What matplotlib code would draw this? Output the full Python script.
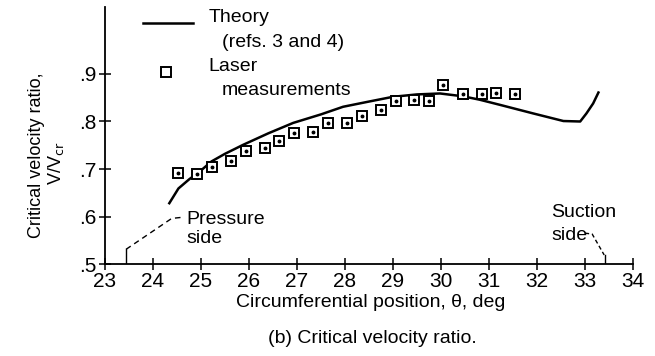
import matplotlib.pyplot as plt
from matplotlib.ticker import FixedLocator, FuncFormatter

# --- data ---
theta_theory = [24.34, 24.53, 24.75, 25.0, 25.22, 25.5, 25.88, 26.4, 26.92,
                27.5, 27.96, 28.5, 29.0, 29.5, 29.98, 30.46, 30.8, 31.23,
                31.92, 32.55, 32.9, 33.03, 33.17, 33.28]
ratio_theory = [0.628, 0.659, 0.678, 0.697, 0.716, 0.732, 0.751, 0.775, 0.797,
                0.815, 0.831, 0.842, 0.852, 0.857, 0.859, 0.853, 0.846, 0.835,
                0.817, 0.801, 0.800, 0.817, 0.838, 0.861]

theta_laser = [24.53, 24.92, 25.22, 25.62, 25.94, 26.33, 26.63, 26.94, 27.33,
               27.64, 28.05, 28.35, 28.75, 29.06, 29.44, 29.75, 30.05, 30.45,
               30.85, 31.14, 31.54]
ratio_laser = [0.691, 0.689, 0.704, 0.717, 0.738, 0.744, 0.758, 0.776, 0.778,
               0.797, 0.797, 0.812, 0.824, 0.844, 0.845, 0.843, 0.877, 0.858,
               0.858, 0.859, 0.857]

x_ticks = list(range(23, 35))
y_ticks = [0.5, 0.6, 0.7, 0.8, 0.9]

plt.rcParams['font.family'] = ['Liberation Sans', 'DejaVu Sans']

fig = plt.figure(figsize=(6.55, 3.56), dpi=100)
ax = fig.add_axes([0.1603, 0.2584, 0.8061, 0.7219])
ax.set_xlim(23, 34)
ax.set_ylim(0.5, 1.041)

for s in ('top', 'right'):
    ax.spines[s].set_visible(False)
for s in ('left', 'bottom'):
    ax.spines[s].set_linewidth(1.3)

ax.xaxis.set_major_locator(FixedLocator(x_ticks))
ax.yaxis.set_major_locator(FixedLocator(y_ticks))
ax.yaxis.set_major_formatter(FuncFormatter(lambda v, p: f"{v:.1f}".lstrip('0')))
ax.tick_params(direction='inout', length=8, width=1.1, labelsize=15, pad=2)

# theory curve and laser points
ax.plot(theta_theory, ratio_theory, color='black', lw=1.8, clip_on=False)
ax.plot(theta_laser, ratio_laser, ls='none', marker='s', ms=7, mfc='white',
        mec='black', mew=1.4)
ax.plot(theta_laser, ratio_laser, ls='none', marker='o', ms=1.8, color='black')

# legend drawn by hand so that symbols line up with the first text line
ax.plot([23.79, 24.83], [1.007, 1.007], color='black', lw=1.8, clip_on=False)
ax.plot([24.27], [0.904], ls='none', marker='s', ms=7, mfc='white',
        mec='black', mew=1.4)
txt = dict(fontsize=14, va='center', ha='left')
ax.text(25.15, 1.018, "Theory", **txt)
ax.text(25.44, 0.967, "(refs. 3 and 4)", **txt)
ax.text(25.15, 0.915, "Laser", **txt)
ax.text(25.44, 0.866, "measurements", **txt)

# side annotations
ax.plot([23.44, 23.44], [0.5, 0.531], color='black', lw=1)
ax.plot([23.44, 24.39, 24.58], [0.531, 0.596, 0.598], color='black', lw=1,
        ls=(0, (4, 3)))
ax.text(24.7, 0.594, "Pressure", **txt)
ax.text(24.7, 0.553, "side", **txt)

ax.plot([33.42, 33.42], [0.5, 0.519], color='black', lw=1)
ax.plot([33.0, 33.15, 33.40], [0.565, 0.563, 0.519], color='black', lw=1,
        ls=(0, (3, 2)))
ax.text(32.29, 0.609, "Suction", **txt)
ax.text(32.29, 0.561, "side", **txt)

# axis labels and caption
fig.text(0.055, 0.565, "Critical velocity ratio,", rotation=90, ha='center',
         va='center', fontsize=13)
fig.text(0.086, 0.54, "V/V$_{\\mathrm{cr}}$", rotation=90, ha='center',
         va='center', fontsize=13)
fig.text(0.566, 0.149, "Circumferential position, \u03b8, deg", ha='center',
         va='center', fontsize=14)
fig.text(0.568, 0.05, "(b) Critical velocity ratio.", ha='center',
         va='center', fontsize=14)

fig.savefig("out.png", dpi=100)
